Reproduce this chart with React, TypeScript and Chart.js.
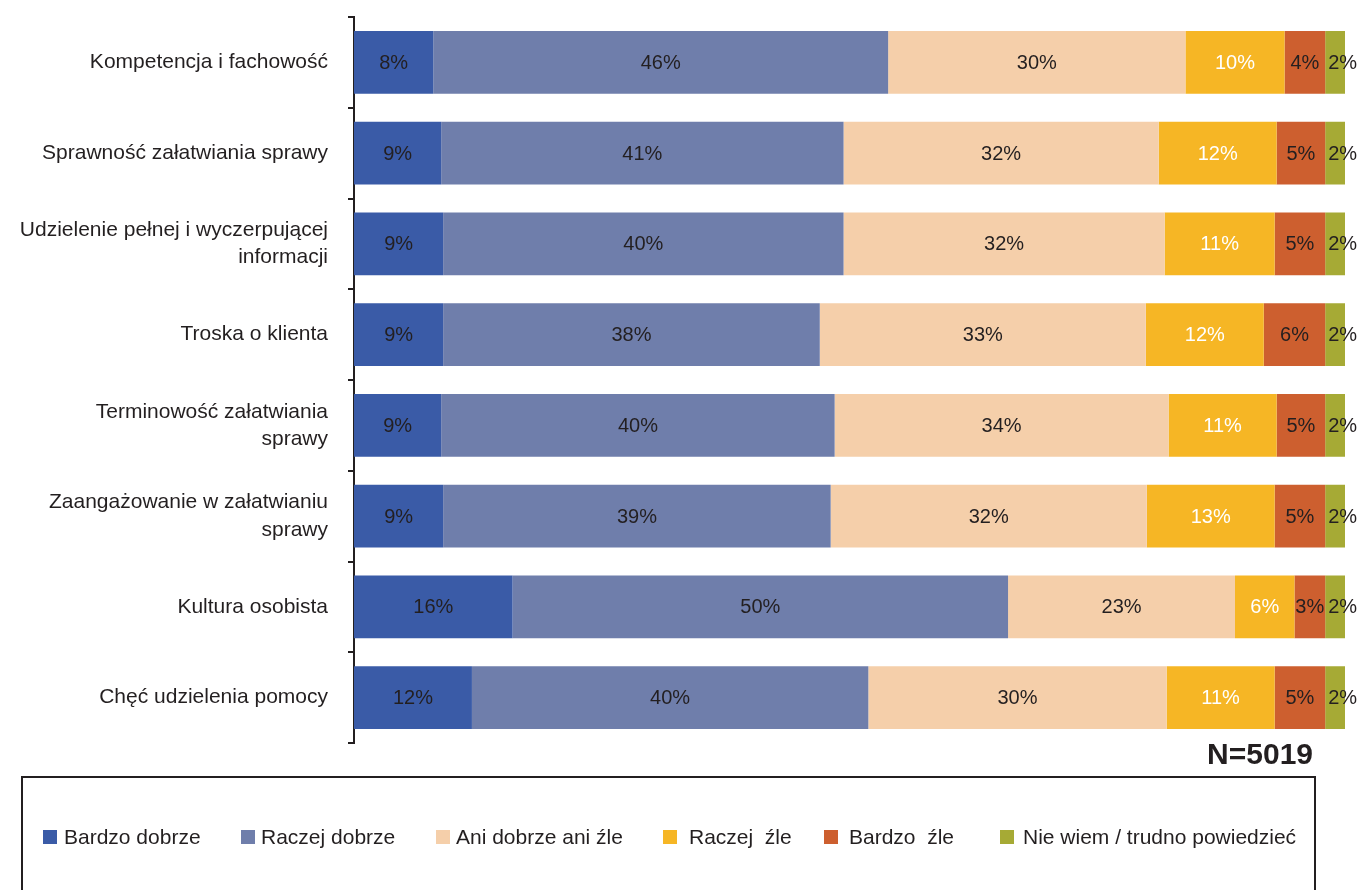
import React, { useEffect, useRef } from "react";
import { Chart, registerables } from "chart.js";

Chart.register(...registerables);

const categories: (string | string[])[] = [
  "Kompetencja i fachowość",
  "Sprawność załatwiania sprawy",
  ["Udzielenie pełnej i wyczerpującej", "informacji"],
  "Troska o klienta",
  ["Terminowość załatwiania", "sprawy"],
  ["Zaangażowanie w załatwianiu", "sprawy"],
  "Kultura osobista",
  "Chęć udzielenia pomocy",
];

const seriesNames = [
  "Bardzo dobrze",
  "Raczej dobrze",
  "Ani dobrze ani źle",
  "Raczej  źle",
  "Bardzo  źle",
  "Nie wiem / trudno powiedzieć",
];

const bardzoDobrze = [8.0, 8.8, 9.0, 9.0, 8.8, 9.0, 16.0, 11.9];
const raczejDobrze = [45.9, 40.6, 40.4, 38.0, 39.7, 39.1, 50.0, 40.0];
const aniDobrzeAniZle = [30.0, 31.8, 32.4, 32.9, 33.7, 31.9, 22.9, 30.1];
const raczejZle = [10.0, 11.9, 11.1, 11.9, 10.9, 12.9, 6.0, 10.9];
const bardzoZle = [4.1, 4.9, 5.1, 6.2, 4.9, 5.1, 3.1, 5.1];
const nieWiem = [2.0, 2.0, 2.0, 2.0, 2.0, 2.0, 2.0, 2.0];

const sampleNote = "N=5019";

const seriesValues = [bardzoDobrze, raczejDobrze, aniDobrzeAniZle, raczejZle, bardzoZle, nieWiem];
const seriesColors = ["#3A5BA7", "#6F7EAB", "#F5CFAA", "#F6B625", "#CD5F2F", "#A6AA35"];
const labelColors = ["#231F20", "#231F20", "#231F20", "#FFFFFF", "#231F20", "#231F20"];

const FONT = '"Liberation Sans", Arial, Helvetica, sans-serif';
const DARK = "#231F20";

// legend layout (positions only)
const LEGEND_MARKER_X = [43, 241, 436, 663, 824, 1000];
const LEGEND_TEXT_OFFSET = [21, 20, 20, 26, 25, 23];

const labelPlugin = {
  id: "segLabels",
  afterDatasetsDraw(chart: any) {
    const ctx = chart.ctx;
    ctx.save();
    ctx.font = `20px ${FONT}`;
    ctx.textBaseline = "middle";
    chart.data.datasets.forEach((ds: any, di: number) => {
      const meta = chart.getDatasetMeta(di);
      meta.data.forEach((bar: any, i: number) => {
        const v = ds.data[i];
        const text = Math.round(v) + "%";
        const left = Math.min(bar.x, bar.base);
        const right = Math.max(bar.x, bar.base);
        ctx.fillStyle = labelColors[di];
        if (di === chart.data.datasets.length - 1) {
          ctx.textAlign = "left";
          ctx.fillText(text, left + 3, bar.y + 1);
        } else {
          ctx.textAlign = "center";
          ctx.fillText(text, (left + right) / 2, bar.y + 1);
        }
      });
    });
    ctx.restore();
  },
  afterDraw(chart: any) {
    const ctx = chart.ctx;
    ctx.save();
    // N note
    ctx.font = `bold 30px ${FONT}`;
    ctx.fillStyle = DARK;
    ctx.textAlign = "right";
    ctx.textBaseline = "alphabetic";
    ctx.fillText(sampleNote, 1313, 764);
    // legend box
    ctx.strokeStyle = DARK;
    ctx.lineWidth = 2;
    ctx.strokeRect(22, 777, 1293, 200);
    // legend items
    ctx.font = `21px ${FONT}`;
    ctx.textAlign = "left";
    ctx.textBaseline = "middle";
    chart.data.datasets.forEach((ds: any, di: number) => {
      const x = LEGEND_MARKER_X[di];
      ctx.fillStyle = ds.backgroundColor;
      ctx.fillRect(x, 830, 14, 14);
      ctx.fillStyle = DARK;
      ctx.fillText(ds.label, x + LEGEND_TEXT_OFFSET[di], 838);
    });
    ctx.restore();
  },
};

export default function App() {
  const ref = useRef<HTMLCanvasElement | null>(null);
  useEffect(() => {
    if (!ref.current) return;
    const chart = new Chart(ref.current, {
      type: "bar",
      data: {
        labels: categories,
        datasets: seriesNames.map((name, i) => ({
          label: name,
          data: seriesValues[i],
          backgroundColor: seriesColors[i],
          borderWidth: 0,
          barPercentage: 0.69,
          categoryPercentage: 1,
        })),
      },
      options: {
        indexAxis: "y",
        responsive: false,
        animation: false,
        devicePixelRatio: 1,
        layout: { padding: { left: 0, right: 16, top: 17, bottom: 147 } },
        plugins: {
          legend: { display: false },
          tooltip: { enabled: false },
        },
        scales: {
          x: { stacked: true, min: 0, max: 100, display: false },
          y: {
            stacked: true,
            afterFit: (s: any) => {
              s.width = 354;
              s.paddingTop = 0;
              s.paddingBottom = 0;
            },
            grid: {
              display: true,
              drawOnChartArea: false,
              drawTicks: true,
              tickLength: 6,
              color: DARK,
              lineWidth: 2,
              offset: true,
            },
            border: { display: true, color: DARK, width: 2 },
            ticks: {
              color: DARK,
              padding: 20,
              font: { family: FONT, size: 21, lineHeight: 1.3 },
            },
          },
        },
      },
      plugins: [labelPlugin],
    } as any);
    return () => chart.destroy();
  }, []);
  return (
    <canvas
      ref={ref}
      width={1361}
      height={890}
      style={{ position: "absolute", left: 0, top: 0, display: "block" }}
    />
  );
}
